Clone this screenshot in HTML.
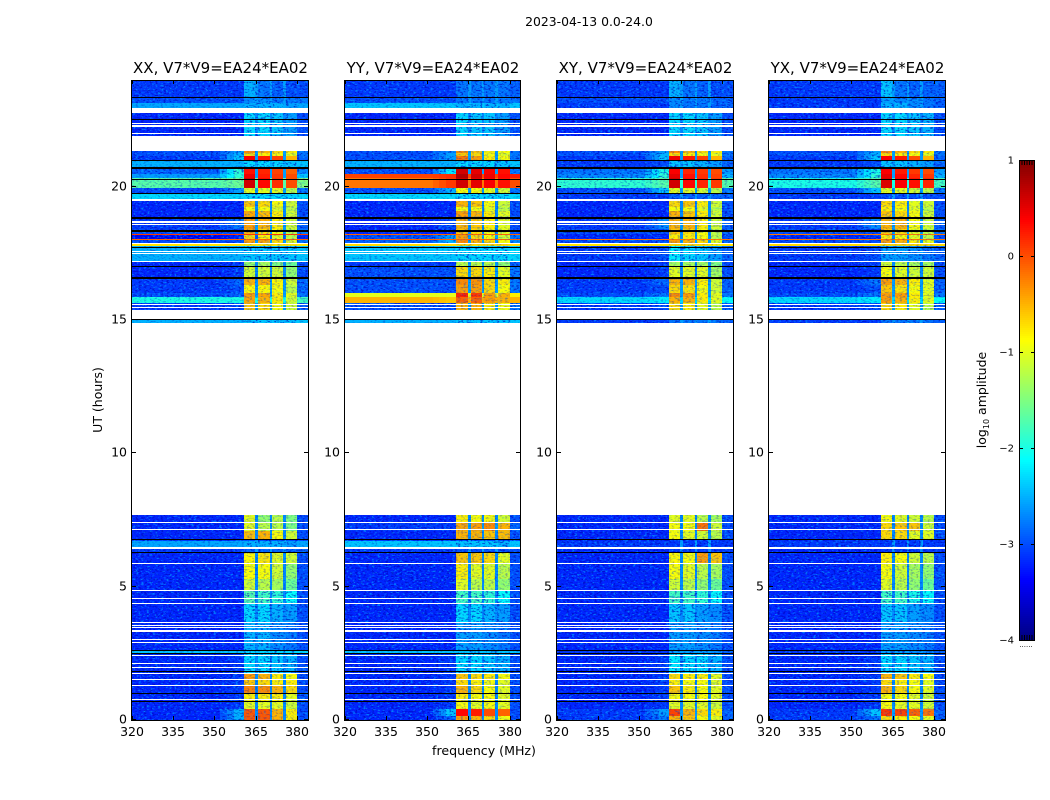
<!DOCTYPE html>
<html><head><meta charset="utf-8"><title>Dynamic spectra</title>
<style>
html,body{margin:0;padding:0;background:#fff;width:1050px;height:800px;overflow:hidden}
svg{display:block}
text{font-family:"DejaVu Sans","Liberation Sans",sans-serif;fill:#000}
</style></head>
<body>
<svg id="chart" width="1050" height="800" viewBox="0 0 1050 800" xmlns="http://www.w3.org/2000/svg">
<defs id="defs">
<filter id="grainLight" x="0" y="0" width="100%" height="100%" color-interpolation-filters="sRGB">
<feTurbulence type="fractalNoise" baseFrequency="0.36 0.62" numOctaves="2" seed="7"/>
<feColorMatrix type="matrix" values="0 0 0 0 0  0 0 0 0 0.68  0 0 0 0 1  6 0 0 0 -3.3"/>
</filter>
<filter id="grainDark" x="0" y="0" width="100%" height="100%" color-interpolation-filters="sRGB">
<feTurbulence type="fractalNoise" baseFrequency="0.36 0.62" numOctaves="2" seed="23"/>
<feColorMatrix type="matrix" values="0 0 0 0 0  0 0 0 0 0  0 0 0 0 0.72  6 0 0 0 -3.2"/>
</filter>
</defs>
<text x="589" y="26" font-size="12.4" text-anchor="middle">2023-04-13 0.0-24.0</text>
<text x="484" y="755" font-size="12.6" text-anchor="middle">frequency (MHz)</text>
<text transform="translate(102,400) rotate(-90)" font-size="12.5" text-anchor="middle">UT (hours)</text>
<text transform="translate(986,400) rotate(-90)" font-size="12.5" text-anchor="middle">log<tspan font-size="8" dy="3">10</tspan><tspan dy="-3"> amplitude</tspan></text>
<text x="1026" y="647" font-size="7" text-anchor="middle" fill="#555">......</text>
</svg>
<script>
const panelNames = ['XX', 'YY', 'XY', 'YX'];
const xTicks = [320, 335, 350, 365, 380];
const yTicks = [0, 5, 10, 15, 20];
const cbarTicks = [1, 0, -1, -2, -3, -4];
const cbarMinorOffsets = [0.03, 0.06, 0.09, 0.12, 0.15];
const rowStarts = [0,.15,.4,.7,1,1.27,1.5,1.75,2.5,2.62,3.67,4.35,4.87,5.3,5.85,6.26,6.4,6.72,6.8,7.1,7.37,7.68,14.89,15.37,15.64,15.86,16,16.31,16.55,17,17.2,17.78,17.9,18,18.03,18.2,18.24,18.4,18.85,19.1,19.25,19.55,19.72,19.95,20.33,20.47,20.65,20.74,20.99,21.15,21.25,21.34,21.9,22.94,23.15,23.34,24];
const whiteLines = [[22.76,22.94],[22.35,22.39],[22.25,22.3],[21.97,22.01],[21.34,21.9],[19.46,19.52],[18.65,18.7],[18.56,18.6],[17.85,17.9],[17.55,17.59],[17.46,17.5],[17.17,17.22],[15.55,15.6],[15.47,15.5],[15.04,15.37],[7.39,7.42],[7.13,7.16],[6.41,6.49],[5.85,5.89],[4.85,4.89],[4.53,4.56],[4.35,4.39],[3.64,3.68],[3.54,3.57],[3.44,3.49],[3.31,3.38],[3,3.04],[2.9,2.94],[2.39,2.43],[2.1,2.14],[1.96,2],[1.75,1.78],[1.5,1.54],[1.27,1.31],[.75,.79]];
const blackLines = [[23.31,23.35],[22.51,22.54],[20.96,21],[20.68,20.72],[20.25,20.28],[19.72,19.75],[18.79,18.85],[18.31,18.38],[17.71,17.75],[16.98,17.02],[16.55,16.6],[15,15.04],[6.77,6.8],[6.26,6.3],[2.59,2.62],[2.49,2.52],[1.79,1.82],[.99,1.02],[.69,.71]];
// each row: background, shoulder, band1, band2, band3, band4 (log10 amplitude)
const xxLevels = [
[-3.2,-2.5,-.05,-.05,-.5,-.8],[-3.2,-2.5,-.05,-.05,-.5,-.8],[-3.2,-3.1,-1,-1,-1,-1.1],[-3.2,-3.1,-.8,-.8,-.8,-1],[-3.2,-3.1,-.25,-.3,-.5,-.7],[-3.2,-3.1,-.6,-.7,-.8,-.8],[-3.2,-3.1,-.4,-.5,-.8,-.9],[-3.2,-3.1,-2.3,-2.3,-2.4,-2.5],[-2.4,-2.4,-2.3,-2.3,-2.3,-2.3],[-3.2,-3.2,-2.5,-2.5,-2.7,-2.8],[-3.2,-3.2,-2.3,-2.3,-2.5,-2.6],[-3.2,-3.2,-1.7,-1.8,-1.9,-2.1],[-3.2,-3.2,-1.1,-1.2,-1.3,-1.6],[-3.2,-3.2,-.9,-.9,-1.1,-1.4],[-3.2,-3.2,-.85,-.75,-1,-1.1],[-3.1,-3.1,-2.9,-2.9,-2.9,-2.9],[-2.55,-2.55,-2.5,-2.5,-2.5,-2.6],[-3.1,-3.1,-3,-3,-3,-3],[-3.2,-3.2,-.55,-.5,-.9,-1.1],[-3.2,-3.2,-1,-1.2,-1.2,-1.5],[-3.2,-3.2,-1,-1.4,-1.2,-1.5],null,
[-2.5,-2.5,-2.4,-2.4,-2.4,-2.4],[-3.1,-3,-.6,-.7,-.9,-1.1],[-2,-2,-.45,-.5,-.8,-1.1],[-3,-2.9,-.4,-.45,-.8,-1],[-3.1,-3,-.85,-.85,-.9,-1.2],[-3.1,-2.9,-.5,-.5,-.85,-1.1],[-3.2,-3.1,-1.1,-1.1,-1.1,-1.4],[-3.2,-3.1,-1.4,-1.3,-1.5,-1.6],[-2.5,-2.5,-2.4,-2.4,-2.4,-2.4],[-.75,-.75,-.75,-.75,-.75,-.75],[-3,-3,-.4,-.45,-.7,-1],[-.1,-.1,-.1,-.1,-.1,-.1],[-3.4,-3.2,-.7,-.8,-1,-1.2],[.1,.1,.1,.1,.1,.1],[-3,-3,-.5,-.7,-.9,-1.2],[-3.1,-2.8,-.4,-.5,-.8,-1.1],[-3.2,-3.2,-.45,-.55,-.8,-1.1],[-3.2,-3.2,-.9,-.9,-1,-1.2],[-3.2,-3.2,-.6,-.7,-.9,-1.1],[-2.3,-2.3,-2.3,-2.3,-2.3,-2.3],[-3,-2.6,-1,-1,-1,-1.2],[-1.7,-1.6,.6,.35,.15,0],[-2.6,-1.9,.45,.25,.1,0],[-2.9,-1.9,.3,.2,.05,-.1],[-3,-2.5,-.8,-.8,-.9,-1],[-2.5,-2.5,-2.3,-2.3,-2.3,-2.4],[-3.1,-2.4,.4,.25,.05,-.5],[-3,-2.5,-.7,-.8,-.9,-1],[-3,-2.6,-.3,-.5,-.7,-.8],null,
[-3.2,-3.2,-2.3,-2.3,-2.4,-2.6],[-2.55,-2.55,-2.5,-2.5,-2.5,-2.6],[-3,-3,-2.7,-2.7,-2.8,-2.8],[-3.1,-3.1,-2.5,-2.8,-2.9,-3]];
const yyLevels = [
[-3.2,-2.9,-.4,-.5,-.7,-.9],[-3.2,-2.4,.35,.25,0,-.1],[-3.2,-3.1,-.9,-1,-.9,-1],[-3.2,-3.1,-.8,-.9,-.9,-1],[-3.2,-3.1,-.5,-.7,-.9,-1],[-3.2,-3.1,-.7,-.8,-.9,-1],[-3.2,-3.1,-.6,-.7,-.8,-.9],[-3.2,-3.1,-2.3,-2.3,-2.4,-2.5],[-2.4,-2.4,-2.4,-2.4,-2.4,-2.4],[-3.2,-3.2,-2.6,-2.6,-2.7,-2.8],[-3.2,-3.2,-2.3,-2.3,-2.5,-2.6],[-3.2,-3.2,-1.8,-1.8,-1.9,-2.1],[-3.2,-3.2,-1,-1.2,-1.2,-1.4],[-3.2,-3.2,-.8,-1,-1,-1.2],[-3.2,-3.2,-.6,-.6,-.7,-1],[-3.1,-3.1,-3,-3,-3,-3],[-2.4,-2.4,-2.4,-2.4,-2.4,-2.5],[-3.1,-3.1,-3,-3,-3,-3],[-3.2,-3.2,-.5,-.5,-.6,-.55],[-3.1,-3.1,-.45,-.4,-.3,-.5],[-3.2,-3.2,-.8,-.9,-.9,-1.1],null,
[-2.5,-2.5,-2.4,-2.4,-2.4,-2.4],[-3,-3,-.5,-.5,-.8,-.9],[-.5,-.6,-.1,-.1,-.4,-.5],[-1,-1,.2,.1,-.4,-.5],[-3,-3,-.4,-.4,-.7,-.9],[-3,-3,-.3,-.35,-.7,-.8],[-3,-3,-.7,-.7,-.8,-1],[-3.1,-3.1,-1.2,-1.2,-1.2,-1.4],[-2.4,-2.4,-2.3,-2.3,-2.3,-2.3],[-.7,-.7,-.7,-.7,-.7,-.7],[-2.9,-2.5,-.3,-.5,-.7,-.9],[-.1,-.1,-.1,-.1,-.1,-.1],[-3,-2.6,-.4,-.7,-.9,-1.1],[-.1,-.1,-.1,-.1,-.1,-.1],[-3.2,-3.2,-.6,-.7,-.9,-1],[-3.2,-3,-.5,-.6,-.8,-1],[-3.2,-3.2,-.4,-.5,-.8,-1],[-3.2,-3.2,-.9,-.9,-1,-1.2],[-3.2,-3.2,-.5,-.6,-.9,-1.1],[-2.3,-2.3,-2.3,-2.3,-2.3,-2.3],[-3,-2.5,-.9,-.9,-1,-1.1],[-.2,.1,.6,.5,.4,.3],[.05,.15,.75,.6,.45,.35],[-3,-2.2,.6,.5,.4,.3],[-3,-2.5,-.8,-.8,-.9,-1],[-2.5,-2.5,-2.3,-2.3,-2.3,-2.4],[-3,-2.6,-.2,-.4,-.8,-.9],[-3,-2.6,-.6,-.7,-.9,-1],[-3,-2.7,-.3,-.6,-.8,-.9],null,
[-3.2,-3.2,-2.3,-2.4,-2.4,-2.6],[-2.4,-2.4,-2.5,-2.5,-2.5,-2.5],[-3,-3,-2.8,-2.8,-2.8,-2.8],[-3.1,-3.1,-2.8,-2.8,-2.8,-2.8]];
const xyLevels = [
[-3.1,-2.8,-.5,-.6,-.9,-1],[-3.1,-2.6,.05,-.5,-.7,-.8],[-3.2,-3.1,-1,-1,-1,-1.1],[-3.2,-3.1,-.9,-.9,-.9,-1],[-3.2,-3.1,-.6,-.8,-.9,-1],[-3.2,-3.1,-.8,-.9,-.9,-1],[-3.2,-3.1,-.7,-.8,-.8,-1],[-3.2,-3.1,-2.2,-2.3,-2.3,-2.5],[-3.1,-3.1,-2.6,-2.6,-2.6,-2.7],[-3.2,-3.2,-2.6,-2.6,-2.7,-2.8],[-3.2,-3.2,-2.4,-2.4,-2.6,-2.7],[-3.2,-3.2,-1.8,-1.8,-1.9,-2.1],[-3.2,-3.2,-1.1,-1.2,-1.4,-1.6],[-3.2,-3.2,-.9,-1,-1.2,-1.3],[-3.2,-3.2,-.85,-.9,-.4,-.6],[-3.2,-3.2,-3.1,-3.1,-3.1,-3.1],[-3.1,-3.1,-3.1,-3.1,-3.1,-3.1],[-3.2,-3.2,-3.1,-3.1,-3.1,-3.1],[-3.2,-3.2,-.9,-1,-1.1,-1.2],[-3.2,-3.2,-.9,-.9,-.2,-1.1],[-3.2,-3.2,-1,-1,-1.2,-1.3],null,
[-3.1,-3.1,-2.8,-2.8,-2.8,-2.8],[-3.1,-3,-.7,-.8,-1,-1.2],[-2.3,-2.2,-.5,-.5,-.8,-1],[-3,-2.8,-.3,-.4,-.8,-1],[-3.1,-3,-.7,-.75,-.9,-1.1],[-3.1,-2.9,-.5,-.5,-.8,-1.1],[-3.2,-3.1,-1,-1,-1,-1.3],[-3.2,-3.1,-1.3,-1.3,-1.3,-1.5],[-3.1,-3,-2.2,-2.3,-2.4,-2.6],[-.75,-.75,-.7,-.7,-.7,-.8],[-3,-3,-.4,-.5,-.7,-1],[-.2,-.2,-.2,-.2,-.2,-.2],[-3.2,-3.2,-.8,-.8,-.9,-1.2],[-3.2,-3.2,-.8,-.8,-.9,-1.2],[-3,-3,-.6,-.7,-.9,-1.2],[-3.1,-2.7,-.5,-.5,-.8,-1.1],[-3.2,-3.2,-.5,-.6,-.8,-1.1],[-3.2,-3.2,-.9,-.9,-1,-1.2],[-3.2,-3.2,-.7,-.6,-.8,-1.1],[-3.1,-3.1,-2.9,-2.9,-2.9,-2.9],[-3,-2.4,-1,-1,-1.1,-1.2],[-1.9,-1.7,.6,.35,.2,.1],[-2.7,-1.9,.5,.3,.15,.05],[-2.8,-2,.4,.2,.1,0],[-3,-2.6,-.8,-.8,-.9,-1],[-3.1,-3,-2.4,-2.4,-2.5,-2.6],[-3.1,-2.4,.45,.25,.05,-.5],[-3,-2.5,-.7,-.8,-.9,-1],[-3,-2.6,-.3,-.5,-.7,-.8],null,
[-3.2,-3.2,-2.3,-2.3,-2.4,-2.6],[-3.1,-3.1,-2.7,-2.8,-2.8,-2.9],[-3,-3,-2.7,-2.8,-2.8,-2.9],[-3.1,-3.1,-2.5,-2.8,-2.9,-3]];
const yxLevels = [
[-3.1,-2.8,-.7,-.8,-.9,-1],[-3.1,-2.4,.1,.05,-.1,-.2],[-3.2,-3.1,-.9,-1,-1,-1.1],[-3.2,-3.1,-.9,-.9,-1,-1.1],[-3.2,-3.1,-.5,-.7,-.9,-1],[-3.2,-3.1,-.7,-.8,-.9,-1],[-3.2,-3.1,-.5,-.6,-.8,-.9],[-3.2,-3.1,-2.3,-2.3,-2.4,-2.5],[-3.1,-3.1,-2.6,-2.6,-2.7,-2.7],[-3.2,-3.2,-2.6,-2.6,-2.7,-2.8],[-3.2,-3.2,-2.4,-2.4,-2.6,-2.7],[-3.2,-3.2,-1.8,-1.8,-2,-2.1],[-3.2,-3.2,-1,-1.2,-1.4,-1.6],[-3.2,-3.2,-.9,-1.1,-1.3,-1.4],[-3.2,-3.2,-.8,-.9,-1.1,-1.2],[-3.2,-3.2,-3.1,-3.1,-3.1,-3.1],[-3.1,-3.1,-3.1,-3.1,-3.1,-3.1],[-3.2,-3.2,-3.1,-3.1,-3.1,-3.1],[-3.2,-3.2,-.7,-.7,-1,-1],[-3.2,-3.2,-.7,-.6,-.6,-1.1],[-3.2,-3.2,-.9,-1,-1.1,-1.2],null,
[-3.1,-3.1,-2.8,-2.8,-2.8,-2.8],[-3.1,-3,-.7,-.8,-1,-1.2],[-2.3,-2.2,-.4,-.5,-.8,-1],[-3,-2.8,-.4,-.4,-.8,-1],[-3.1,-3,-.6,-.75,-.9,-1],[-3.1,-2.8,-.4,-.5,-.8,-1],[-3.2,-3.1,-.9,-1,-1.1,-1.1],[-3.2,-3.1,-1.1,-1.2,-1.3,-1.3],[-3.1,-3,-2.6,-2.6,-2.7,-2.8],[-.7,-.7,-.7,-.7,-.7,-.7],[-3,-3,-.4,-.5,-.8,-1],[-.2,-.2,-.2,-.2,-.2,-.2],[-3.2,-3.2,-.8,-.9,-1,-1.2],[-.2,-.2,-.2,-.2,-.2,-.2],[-3,-3,-.6,-.7,-1,-1.2],[-3.1,-2.7,-.5,-.5,-.9,-1.1],[-3.2,-3.2,-.6,-.7,-.9,-1.1],[-3.2,-3.2,-.8,-.9,-1,-1.2],[-3.2,-3.2,-.7,-.8,-1,-1.1],[-3.1,-3.1,-3,-3,-3,-3],[-3,-2.4,-1,-1,-1.1,-1.2],[-2,-1.7,.55,.4,.3,.2],[-2.7,-1.9,.5,.35,.2,.1],[-2.8,-2,.4,.25,.1,0],[-3,-2.6,-.8,-.8,-.9,-1],[-3.1,-3,-2.4,-2.4,-2.5,-2.6],[-3.1,-2.4,.4,.25,0,-.5],[-3,-2.5,-.7,-.8,-.9,-1],[-3,-2.6,-.3,-.5,-.7,-.8],null,
[-3.2,-3.2,-2.3,-2.3,-2.4,-2.5],[-3.1,-3.1,-2.5,-2.5,-2.7,-2.8],[-3.1,-3.1,-2.6,-2.7,-2.7,-2.8],[-3.1,-3.1,-2.4,-2.8,-2.9,-2.9]];
const panelLevels = [xxLevels, yyLevels, xyLevels, yxLevels];
const panelLefts = [131, 344, 556, 768];
const panelWidths = [177, 176, 177, 177];

const NS = 'http://www.w3.org/2000/svg';
const svg = document.getElementById('chart');
const defs = document.getElementById('defs');
const YT = 80, YB = 720;
const xScale = (p, mhz) => panelLefts[p] + 0.5 + (mhz - 320) / 64 * panelWidths[p];
const yScale = h => YB - h / 24 * (YB - YT);
const cbarY = v => 160 + (1 - v) / 5 * 480;
const clamp = v => Math.max(0, Math.min(1, v));
function jet(level) {
  const t = clamp((level + 4) / 5);
  const r = clamp(1.5 - Math.abs(4 * t - 3));
  const g = clamp(1.5 - Math.abs(4 * t - 2));
  const b = clamp(1.5 - Math.abs(4 * t - 1));
  return 'rgb(' + Math.round(r * 255) + ',' + Math.round(g * 255) + ',' + Math.round(b * 255) + ')';
}
function make(tag, attrs, parent) {
  const el = document.createElementNS(NS, tag);
  for (const k in attrs) el.setAttribute(k, attrs[k]);
  (parent || svg).appendChild(el);
  return el;
}
panelNames.forEach((name, p) => {
  const levels = panelLevels[p];
  const key = name.toLowerCase();
  const x0 = panelLefts[p] + 1, w = panelWidths[p] - 1;
  const bandX1 = Math.round(xScale(p, 360.5)), bandX2 = Math.round(xScale(p, 380));
  const strongClip = make('clipPath', {id: key + '-strong-clip'}, defs);
  const weakClip = make('clipPath', {id: key + '-weak-clip'}, defs);
  const g = make('g', {'shape-rendering': 'crispEdges'});
  
  
  levels.forEach((row, i) => {
    if (!row) return;
    const y1 = Math.round(yScale(rowStarts[i + 1]));
    const y2 = Math.round(yScale(rowStarts[i]));
    const h = Math.max(1, y2 - y1);
    const bg = row[0], sh = row[1];
    const gap = Math.max(bg, Math.min(bg + 0.5, -2.6));
    const spans = [[320, 352, bg], [352, 354.5, bg + (sh - bg) * 0.33], [354.5, 357, bg + (sh - bg) * 0.66], [357, 360.5, sh], [360.5, 364.8, row[2]], [364.8, 365.9, gap], [365.9, 369.9, row[3]], [369.9, 370.8, gap], [370.8, 374.9, row[4]], [374.9, 375.8, gap], [375.8, 380, row[5]], [380, 384, Math.max(bg, Math.min(bg + 0.2, row[5]))]];
    spans.forEach(s => {
      const x1 = Math.max(x0, Math.round(xScale(p, s[0])));
      const x2 = Math.min(x0 + w, Math.round(xScale(p, s[1])));
      const cell = make('rect', {x: x1, y: y1, width: x2 - x1, height: h, fill: jet(s[2])}, g);
      
      
    });
    const sideClip = bg < -2.6 ? strongClip : (bg < -1.5 ? weakClip : null);
    if (sideClip) {
      make('rect', {x: x0, y: y1, width: bandX1 - x0, height: h}, sideClip);
      make('rect', {x: bandX2, y: y1, width: x0 + w - bandX2, height: h}, sideClip);
    }
    const midClip = row[2] < -1.5 ? strongClip : weakClip;
    if (row[2] < 0.3) make('rect', {x: bandX1, y: y1, width: bandX2 - bandX1, height: h}, midClip);
  });
  [[strongClip, 0.62], [weakClip, 0.28]].forEach(z => {
    const light = make('rect', {x: x0, y: YT, width: w, height: YB - YT, filter: 'url(#grainLight)', opacity: z[1]});
    
    
    const lightWrap = make('g', {'clip-path': 'url(#' + z[0].id + ')'}, g);
    
    
    lightWrap.appendChild(light);
    const dark = make('rect', {x: x0, y: YT, width: w, height: YB - YT, filter: 'url(#grainDark)', opacity: z[1]});
    
    
    lightWrap.appendChild(dark);
  });
  levels.forEach((row, i) => {
    if (row) return;
    const y1 = Math.round(yScale(rowStarts[i + 1]));
    const y2 = Math.round(yScale(rowStarts[i]));
    const blank = make('rect', {x: x0, y: y1, width: w, height: y2 - y1, fill: '#fff'}, g);
    
    
  });
  whiteLines.forEach(l => {
    const y1 = Math.round(yScale(l[1]));
    const y2 = Math.round(yScale(l[0]));
    const line = make('rect', {x: x0, y: y1, width: w, height: Math.max(1, y2 - y1), fill: '#fff'}, g);
    
    
  });
  blackLines.forEach(l => {
    const y1 = Math.round(yScale(l[1]));
    const y2 = Math.round(yScale(l[0]));
    const line = make('rect', {x: x0, y: y1, width: w, height: Math.max(1, y2 - y1), fill: '#000'}, g);
    
    
  });
  const frame = make('rect', {x: x0 - 0.5, y: YT + 0.5, width: w + 1, height: YB - YT, fill: 'none', stroke: '#000', 'stroke-width': 1});
  
  
  const title = make('text', {x: x0 + w / 2 + 0.5, y: 73, 'font-size': 15, 'text-anchor': 'middle'});
  title.textContent = name + ', V7*V9=EA24*EA02';
  
  
  xTicks.forEach(v => {
    const x = Math.round(xScale(p, v)) + 0.5;
    const low = make('line', {x1: x, x2: x, y1: YB, y2: YB - 4, stroke: '#000'});
    
    
    const up = make('line', {x1: x, x2: x, y1: YT, y2: YT + 4, stroke: '#000'});
    
    
    const lab = make('text', {x: x - 0.5, y: 736, 'font-size': 12.5, 'text-anchor': 'middle'});
    lab.textContent = v;
    
    
  });
  yTicks.forEach(v => {
    const y = Math.round(yScale(v)) - 0.5;
    const a = make('line', {x1: x0, x2: x0 + 4, y1: y, y2: y, stroke: '#000'});
    
    
    const b = make('line', {x1: x0 + w, x2: x0 + w - 4, y1: y, y2: y, stroke: '#000'});
    
    
    const lab = make('text', {x: x0 - 5, y: y + 4, 'font-size': 12.5, 'text-anchor': 'end'});
    lab.textContent = v;
    
    
  });
});
const cbar = make('g', {'shape-rendering': 'crispEdges'});


for (let y = 160; y < 640; y += 2) {
  const level = 1 - (y + 1 - 160) / 480 * 5;
  const strip = make('rect', {x: 1019, y: y, width: 16, height: 2, fill: jet(level)}, cbar);
  
  
}
const cframe = make('rect', {x: 1019.5, y: 160.5, width: 15, height: 480, fill: 'none', stroke: '#000'});


cbarMinorOffsets.forEach(o => {
  const x = 1019.5 + o / 0.18 * 15;
  const top = make('line', {x1: x, x2: x, y1: 160, y2: 165, stroke: '#000'});
  
  
  const bottom = make('line', {x1: x, x2: x, y1: 640, y2: 635, stroke: '#000'});
  
  
});
cbarTicks.forEach(v => {
  const y = Math.round(cbarY(v)) + 0.5;
  const a = make('line', {x1: 1019, x2: 1023, y1: y, y2: y, stroke: '#000'});
  
  
  const b = make('line', {x1: 1035, x2: 1031, y1: y, y2: y, stroke: '#000'});
  
  
  const lab = make('text', {x: 1014, y: y + 3, 'font-size': 10, 'text-anchor': 'end'});
  lab.textContent = String(v).replace('-', '\u2212');
  
  
});
</script>
</body></html>
